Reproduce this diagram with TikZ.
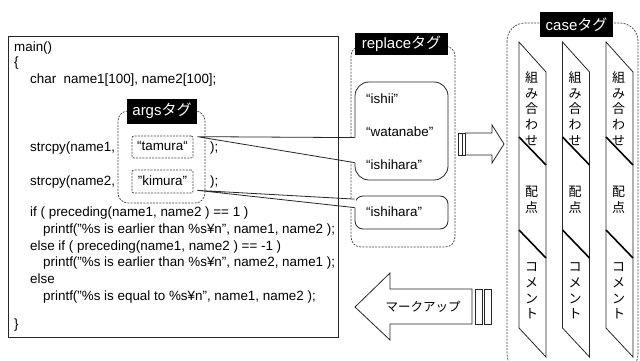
\documentclass[tikz,border=0pt]{standalone}
\usepackage{fontspec}
\setmainfont{Liberation Sans}
\newfontfamily\jp{Noto Sans CJK JP}
\usetikzlibrary{calc}
\begin{document}
\begin{tikzpicture}[x=1pt,y=-1pt,
  line/.style={draw=black!85, line width=0.8pt},
  dbox/.style={draw=black!75, line width=0.7pt, dash pattern=on 2pt off 1.2pt},
  tag/.style={fill=black, text=white, inner sep=0pt, font=\fontsize{15}{15}\selectfont},
  code/.style={anchor=west, inner sep=0pt, font=\fontsize{13.4}{13.4}\selectfont, text height=9.5pt, text depth=2.5pt},
  val/.style={inner sep=0pt, font=\fontsize{13.4}{13.4}\selectfont, text height=9.5pt, text depth=2.5pt},
  bubble/.style={line, fill=white, rounded corners=#1},
  vtext/.style={align=center, inner sep=0pt, font=\jp\fontsize{13}{15.75}\selectfont},
  sepline/.style={draw=black, line width=1.6pt},
]
\useasboundingbox (0,0) rectangle (640,361);

% ---------- replace tag ----------
\node[dbox, rounded corners=10, minimum width=104pt, minimum height=201pt] (rep) at (403,146.5) {};
\node[bubble=14, minimum width=93pt, minimum height=98pt] (bub1) at (401.5,131) {};
\node[bubble=8, minimum width=93pt, minimum height=33pt] (bub2) at (401.5,212.5) {};
\node[tag, minimum width=93pt, minimum height=22pt] (reptag) at (401.5,44) {replace{\jp タグ}};
\node[code] (r1) at (366,100) {“ishii”};
\node[code] (r2) at (366,133) {“watanabe”};
\node[code] (r3) at (366,166) {“ishihara”};
\node[code] (r4) at (366,213) {“ishihara”};

% ---------- code box ----------
\node[dbox, rounded corners=10, minimum width=87pt, minimum height=92pt] (args) at (161.5,157) {};
\node[tag, minimum width=70pt, minimum height=25pt] (argstag) at (162,111) {args{\jp タグ}};
\node[dbox, rounded corners=2, minimum width=61pt, minimum height=22pt, val] (tam) at (162.5,147) {“tamura“};
\node[dbox, rounded corners=2, minimum width=61pt, minimum height=23pt, val] (kim) at (162.5,181.5) {"kimura"};

% pointers of the bubbles
\coordinate (tip1) at ($(tam.north east)+(4,1)$);
\coordinate (b1a) at ($(bub1.north west)+(0,56)$);
\coordinate (b1b) at ($(bub1.north west)+(0,81)$);
\fill[white] (tip1) -- ($(b1a)+(1.2,0)$) -- ($(b1b)+(1.2,0)$) -- cycle;
\draw[line] (b1a) -- (tip1) -- (b1b);
\coordinate (tip2) at ($(kim.south east)+(4,-3)$);
\coordinate (b2a) at ($(bub2.north west)+(0,3.5)$);
\coordinate (b2b) at ($(bub2.north west)+(0,12)$);
\fill[white] (tip2) -- ($(b2a)+(1.2,0)$) -- ($(b2b)+(1.2,0)$) -- cycle;
\draw[line] (b2a) -- (tip2) -- (b2b);

\node[line, minimum width=330pt, minimum height=301pt] (code) at (173,186.5) {};
\node[code] (c1) at (14,48) {main()};
\node[code] (c2) at (14,63) {\{};
\node[code] (c3) at (30,80) {char~~name1[100], name2[100];};
\node[code] (c4) at (30,148) {strcpy(name1,};
\node[code] (c4b) at (210,148) {);};
\node[code] (c5) at (30,182) {strcpy(name2,};
\node[code] (c5b) at (210,182) {);};
\node[code] (c6) at (30,213) {if ( preceding(name1, name2 ) == 1 )};
\node[code] (c7) at (43,230) {printf("\%s is earlier than \%s¥n", name1, name2 );};
\node[code] (c8) at (30,247) {else if ( preceding(name1, name2 ) == -1 )};
\node[code] (c9) at (43,263) {printf("\%s is earlier than \%s¥n", name2, name1 );};
\node[code] (c10) at (30,280) {else};
\node[code] (c11) at (43,297) {printf("\%s is equal to \%s¥n", name1, name2 );};
\node[code] (c12) at (14,325) {\}};

% ---------- arrows ----------
\draw[line, fill=white] (458.5,133) rectangle (462,155);
\draw[line, fill=white] (462,133) rectangle (465.5,155);
\draw[line, fill=white] (465.5,133) -- (492,133) -- (492,125) -- (504,144) -- (492,163) -- (492,155) -- (465.5,155) -- cycle;

\draw[line, fill=white] (472,289) -- (390,289) -- (390,273) -- (355,307) -- (390,340) -- (390,324) -- (472,324) -- cycle;
\draw[line, fill=white] (475,289) rectangle (482,324);
\draw[line, fill=white] (484,289) rectangle (491,324);
\node[inner sep=0pt, font=\jp\fontsize{12.5}{12.5}\selectfont] (mk) at (423,307) {マークアップ};

% ---------- case tag ----------
\draw[dbox, rounded corners=18] (507,23) rectangle (638,372);
\node[tag, minimum width=73pt, minimum height=25pt] (casetag) at (576.5,24.5) {case{\jp タグ}};
\foreach \i in {0,1,2}{
  \pgfmathsetmacro\xl{519+43.5*\i}
  \pgfmathsetmacro\xr{\xl+27}
  \pgfmathsetmacro\xc{\xl+12.5}
  \draw[line, fill=white] (\xl,42) -- (\xr,72) -- (\xr,357) -- (\xl,328) -- cycle;
  \draw[sepline] (\xl,137) -- (\xr,165);
  \draw[sepline] (\xl,230) -- (\xr,258);
  \node[vtext] (k\i) at (\xc,108.5) {組\\み\\合\\わ\\せ};
  \node[vtext] (h\i) at (\xc,200) {配\\点};
  \node[vtext] (m\i) at (\xc,291) {コ\\メ\\ン\\ト};
}
\end{tikzpicture}
\end{document}
